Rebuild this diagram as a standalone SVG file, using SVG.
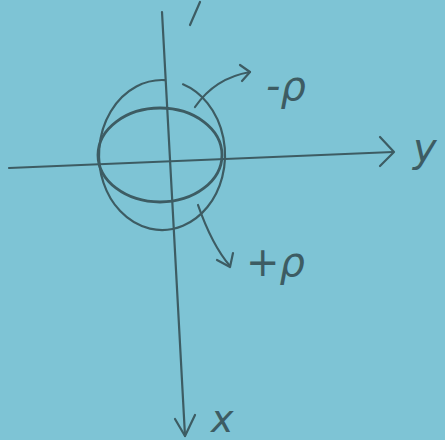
<svg xmlns="http://www.w3.org/2000/svg" width="445" height="440" viewBox="0 0 445 440">
<style>
.pen{fill:none;stroke:#3d5c63;stroke-width:2.2;stroke-linecap:round;stroke-linejoin:round}
.thick{stroke-width:2.8}
.lbl{font-family:"DejaVu Sans","Liberation Sans",sans-serif;fill:#3d5c63;font-style:italic}
</style>
<rect x="0" y="0" width="445" height="440" fill="#7ec4d5"/>
<g id="scribble"><path class="pen" d="M190,25 L200,2"/></g>
<g id="connectors">
<path class="pen" d="M162,12 L185,436"/>
<path class="pen" d="M175,419 L185,436 L195,415"/>
<path class="pen" d="M9,168 L393,152"/>
<path class="pen" d="M380,137 L394,152 L380,166"/>
<path class="pen" d="M195,107 Q215,78 250,72"/>
<path class="pen" d="M240,65 L250,72 L242,81"/>
<path class="pen" d="M198,205 Q212,245 230,266"/>
<path class="pen" d="M217,260 L230,267 L233,253"/>
</g>
<g id="outer"><path class="pen" d="M183,84.3 A63,75 0 1 1 165,80.1"/></g>
<g id="inner"><ellipse class="pen thick" cx="160" cy="155" rx="62" ry="47"/></g>
<g id="labels">
<text class="lbl" x="266" y="100" font-size="40">-ρ</text>
<text class="lbl" x="246" y="276" font-size="40">+ρ</text>
<text class="lbl" x="413" y="162" font-size="40">y</text>
<text class="lbl" x="211" y="432" font-size="38">x</text>
</g>
</svg>
